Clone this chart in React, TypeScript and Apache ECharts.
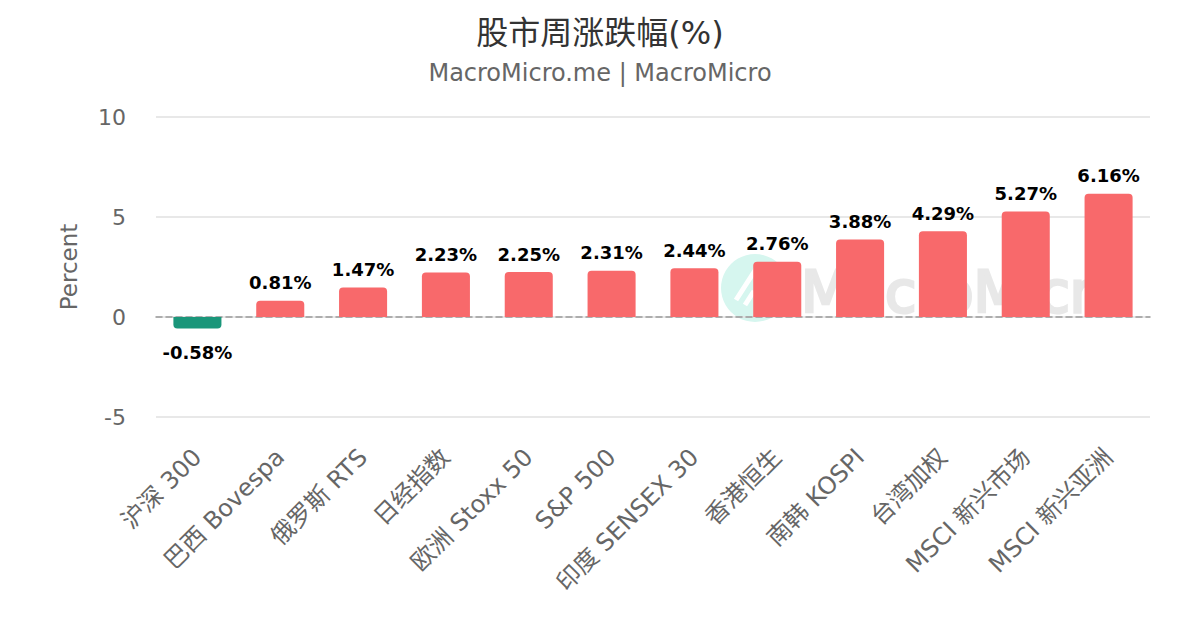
import React, { useEffect, useRef } from "react";
import * as echarts from "echarts";

const categories = [
  "沪深 300",
  "巴西 Bovespa",
  "俄罗斯 RTS",
  "日经指数",
  "欧洲 Stoxx 50",
  "S&P 500",
  "印度 SENSEX 30",
  "香港恒生",
  "南韩 KOSPI",
  "台湾加权",
  "MSCI 新兴市场",
  "MSCI 新兴亚洲",
];
const values = [-0.58, 0.81, 1.47, 2.23, 2.25, 2.31, 2.44, 2.76, 3.88, 4.29, 5.27, 6.16];
const yTicks = { min: -5, max: 10, interval: 5 };

const UP = "#f8696b";
const DOWN = "#1a967a";
const FONT = "DejaVu Sans, Noto Sans CJK SC, sans-serif";

export default function App() {
  const ref = useRef<HTMLDivElement>(null);
  useEffect(() => {
    if (!ref.current) return;
    const chart = echarts.init(ref.current, null, { renderer: "svg" });
    chart.setOption({
      animation: false,
      backgroundColor: "#fff",
      textStyle: { fontFamily: FONT },
      title: {
        text: "股市周涨跌幅(%)",
        subtext: "MacroMicro.me | MacroMicro",
        left: "center",
        top: 12,
        itemGap: 12,
        textStyle: { fontFamily: FONT, fontSize: 32, color: "#333", fontWeight: "normal" },
        subtextStyle: { fontFamily: FONT, fontSize: 24, color: "#666" },
      },
      graphic: [
        {
          type: "group",
          z: 0,
          children: [
            { type: "circle", shape: { cx: 755, cy: 288, r: 34 }, style: { fill: "#d6f6ef" } },
            {
              type: "polyline",
              shape: { points: [[736, 300], [754, 272], [772, 300]] },
              style: { stroke: "#ffffff", lineWidth: 5, fill: "none" },
            },
            {
              type: "polyline",
              shape: { points: [[745, 305], [754, 291]] },
              style: { stroke: "#ffffff", lineWidth: 5, fill: "none" },
            },
            {
              type: "text",
              x: 801,
              y: 292,
              style: {
                text: "MacroMicro",
                fontFamily: FONT,
                fontSize: 57,
                fill: "#e8e8e8",
                stroke: "#e8e8e8",
                lineWidth: 3,
                verticalAlign: "middle",
                align: "left",
              },
            },
          ],
        },
      ],
      grid: { left: 156, right: 50, top: 117, bottom: 213, containLabel: false },
      xAxis: {
        type: "category",
        data: categories,
        axisLine: { show: true, onZero: true, lineStyle: { color: "#999", type: [6, 4], width: 1.5 } },
        axisTick: { show: false },
        axisLabel: {
          rotate: 45,
          interval: 0,
          fontFamily: FONT,
          fontSize: 24,
          color: "#666",
          margin: 36,
        },
      },
      yAxis: {
        type: "value",
        min: yTicks.min,
        max: yTicks.max,
        interval: yTicks.interval,
        name: "Percent",
        nameLocation: "middle",
        nameGap: 76,
        nameTextStyle: { fontFamily: FONT, fontSize: 23, color: "#666" },
        axisLine: { show: false },
        axisTick: { show: false },
        axisLabel: { fontFamily: FONT, fontSize: 22, color: "#666", margin: 30 },
        splitLine: { lineStyle: { color: "#e0e0e0", width: 1.5 } },
      },
      series: [
        {
          type: "bar",
          z: 2,
          barWidth: "58%",
          data: values.map((v) => ({
            value: v,
            itemStyle: {
              color: v < 0 ? DOWN : UP,
              borderRadius: v < 0 ? [0, 0, 4, 4] : [4, 4, 0, 0],
            },
            label: {
              show: true,
              position: v < 0 ? "bottom" : "top",
              distance: v < 0 ? 15 : 9,
              formatter: (p: any) => `${Number(p.value).toFixed(2)}%`,
              fontFamily: FONT,
              fontSize: 18,
              fontWeight: "bold",
              color: "#000",
            },
          })),
        },
      ],
    });
    return () => chart.dispose();
  }, []);
  return (
    <div
      ref={ref}
      style={{ position: "absolute", left: 0, top: 0, width: 1200, height: 630 }}
    />
  );
}
